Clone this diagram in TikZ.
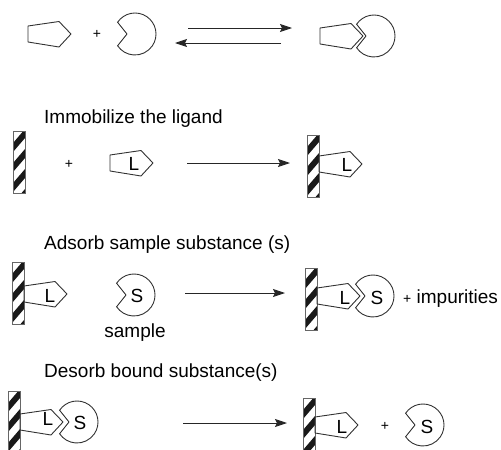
\documentclass[tikz,border=0pt]{standalone}
\usepackage{fontspec}
\setmainfont{Liberation Sans}
\usetikzlibrary{arrows.meta}
\begin{document}
\begin{tikzpicture}[x=1pt,y=-1pt,
  shapeline/.style={line width=0.9pt, draw=black!80, line join=round},
  rxn/.style={line width=0.9pt, draw=black!85, -{Stealth[length=12pt,width=8pt,inset=2pt]}},
  lbl/.style={font=\fontsize{19}{22}\selectfont, inner sep=0pt},
  plus/.style={font=\fontsize{14}{14}\selectfont, inner sep=0pt},
  title/.style={lbl, anchor=base west},
  pics/lig/.style={code={\draw[shapeline] (-43,-8) -- (-12,-12.5) -- (0,0) -- (-12,13) -- (-43,8) -- cycle;}},
  pics/rec/.style={code={\draw[shapeline] (146:21) -- (-8,0) -- (-146:21) arc[start angle=-146,end angle=146,radius=21] -- cycle;}},
  pics/wall/.style={code={
    \begin{scope}
      \clip (0,0) rectangle (12,62);
      \foreach \k in {0,1,2,3} {
        \fill[black!90] (0,\k*20+12) -- (12,\k*20-2) -- (12,\k*20+7) -- (0,\k*20+21) -- cycle;
      }
    \end{scope}
    \draw[line width=0.7pt, draw=black!60] (0,0) rectangle (12,62);
  }}]
\useasboundingbox (0,0) rectangle (501,450);

% Row 1
\pic (p1) at (71,34) {lig};
\node[plus] (plus1) at (97,34) {+};
\pic (r1) at (135,34) {rec};
\coordinate (a1s) at (188,28);
\coordinate (a1e) at (292,28);
\coordinate (b1s) at (281,43);
\coordinate (b1e) at (175,43);
\draw[rxn] (a1s) -- (a1e);
\draw[rxn] (b1s) -- (b1e);
\pic (p1c) at (363,36) {lig};
\pic (r1c) at (374,36) {rec};

% Row 2
\node[title] (t2) at (44,123) {Immobilize the ligand};
\pic (w2a) at (13,131) {wall};
\node[plus] (plus2) at (69,164) {+};
\pic (p2) at (153,163) {lig};
\node[lbl] (l2) at (134,164) {L};
\coordinate (a2s) at (187,163);
\coordinate (a2e) at (290,163);
\draw[rxn] (a2s) -- (a2e);
\pic (w2b) at (307,135) {wall};
\pic (p2b) at (362,164) {lig};
\node[lbl] (l2b) at (347,165) {L};

% Row 3
\node[title] (t3) at (44,249) {Adsorb sample substance (s)};
\pic (w3a) at (12,262) {wall};
\pic (p3) at (67,294) {lig};
\node[lbl] (l3) at (50,296) {L};
\pic (r3) at (134,295) {rec};
\node[lbl] (s3) at (137,296) {S};
\node[lbl, anchor=base] (smp) at (135,337) {sample};
\coordinate (a3s) at (185,293);
\coordinate (a3e) at (285,293);
\draw[rxn] (a3s) -- (a3e);
\pic (w3b) at (305,268) {wall};
\pic (p3b) at (360,296) {lig};
\node[lbl] (l3b) at (345,298) {L};
\pic (r3b) at (373,296) {rec};
\node[lbl] (s3b) at (377,298) {S};
\node[title] (imp) at (403,303) {{\fontsize{14}{14}\selectfont+} impurities};

% Row 4
\node[title] (t4) at (44,377) {Desorb bound substance(s)};
\pic (w4a) at (8,391) {wall};
\pic (p4) at (63,422) {lig};
\node[lbl] (l4) at (48,419) {L};
\pic (r4) at (77,422) {rec};
\node[lbl] (s4) at (80,423) {S};
\coordinate (a4s) at (183,423);
\coordinate (a4e) at (287,423);
\draw[rxn] (a4s) -- (a4e);
\pic (w4b) at (303,398) {wall};
\pic (p4b) at (358,425) {lig};
\node[lbl] (l4b) at (342,427) {L};
\node[plus] (plus4) at (385,426) {+};
\pic (r4b) at (423,425) {rec};
\node[lbl] (s4b) at (427,427) {S};
\end{tikzpicture}
\end{document}
